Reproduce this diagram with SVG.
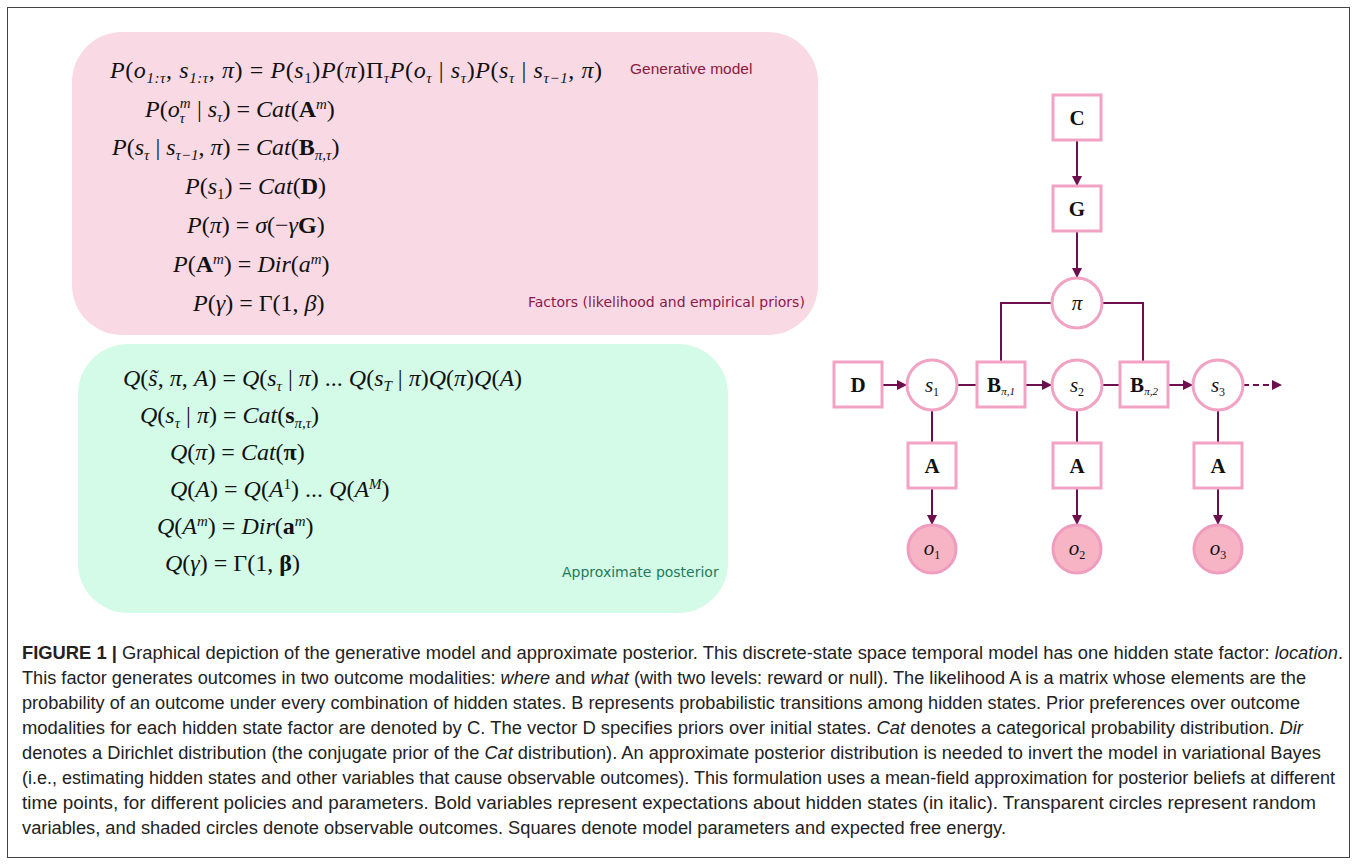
<svg xmlns="http://www.w3.org/2000/svg" width="1357" height="864" viewBox="0 0 1357 864">
<style>
.eq{font-family:"Liberation Serif",serif;font-size:24px;fill:#111}
.i{font-style:italic}
.b{font-weight:bold}
.sub{font-size:15px}
.lbl{font-family:"DejaVu Sans",sans-serif;font-size:14px}
.cap{font-family:"Liberation Sans",sans-serif;font-size:17.5px;fill:#222}
.box{fill:#fff;stroke:#f2a2c3;stroke-width:3}
.circ{fill:#fff;stroke:#f2a2c3;stroke-width:3}
.obs{fill:#f7b4c4;stroke:#f09cbf;stroke-width:3}
.gl{font-family:"Liberation Serif",serif;font-size:21px;fill:#111;text-anchor:middle}
.con{fill:none;stroke:#6d0f4e;stroke-width:2}
</style>
<defs>
<marker id="ah" viewBox="0 0 10 10" refX="10" refY="5" markerWidth="5" markerHeight="5" orient="auto" markerUnits="strokeWidth">
<path d="M0,0 L10,5 L0,10 z" fill="#6d0f4e"/>
</marker>
</defs>
<rect x="7.5" y="7.5" width="1342" height="850" fill="none" stroke="#444" stroke-width="1"/>

<g id="generative-model">
<rect x="72" y="32" width="746" height="303" rx="50" fill="#f9d9e4"/>
<text class="eq" x="110" y="78" textLength="492" lengthAdjust="spacing"><tspan class="i">P</tspan>(<tspan class="i">o</tspan><tspan class="sub i" dy="5">1:τ</tspan><tspan dy="-5">, </tspan><tspan class="i">s</tspan><tspan class="sub i" dy="5">1:τ</tspan><tspan dy="-5">, </tspan><tspan class="i">π</tspan>) = <tspan class="i">P</tspan>(<tspan class="i">s</tspan><tspan class="sub" dy="5">1</tspan><tspan dy="-5">)</tspan><tspan class="i">P</tspan>(<tspan class="i">π</tspan>)Π<tspan class="sub i" dy="5">τ</tspan><tspan class="i" dy="-5">P</tspan>(<tspan class="i">o</tspan><tspan class="sub i" dy="5">τ</tspan><tspan dy="-5"> | </tspan><tspan class="i">s</tspan><tspan class="sub i" dy="5">τ</tspan><tspan dy="-5">)</tspan><tspan class="i">P</tspan>(<tspan class="i">s</tspan><tspan class="sub i" dy="5">τ</tspan><tspan dy="-5"> | </tspan><tspan class="i">s</tspan><tspan class="sub i" dy="5">τ−1</tspan><tspan dy="-5">, </tspan><tspan class="i">π</tspan>)</text>
<text class="eq" x="145" y="117"><tspan class="i">P</tspan>(<tspan class="i">o</tspan><tspan class="sub i" dy="-9">m</tspan><tspan class="sub i" dx="-11" dy="15">τ</tspan><tspan dx="6" dy="-6"> | </tspan><tspan class="i">s</tspan><tspan class="sub i" dy="5">τ</tspan><tspan dy="-5">) = </tspan><tspan class="i">Cat</tspan>(<tspan class="b">A</tspan><tspan class="sub i" dy="-8">m</tspan><tspan dy="8">)</tspan></text>
<text class="eq" x="112" y="155"><tspan class="i">P</tspan>(<tspan class="i">s</tspan><tspan class="sub i" dy="5">τ</tspan><tspan dy="-5"> | </tspan><tspan class="i">s</tspan><tspan class="sub i" dy="5">τ−1</tspan><tspan dy="-5">, </tspan><tspan class="i">π</tspan>) = <tspan class="i">Cat</tspan>(<tspan class="b">B</tspan><tspan class="sub i" dy="5">π,τ</tspan><tspan dy="-5">)</tspan></text>
<text class="eq" x="185" y="194"><tspan class="i">P</tspan>(<tspan class="i">s</tspan><tspan class="sub" dy="5">1</tspan><tspan dy="-5">) = </tspan><tspan class="i">Cat</tspan>(<tspan class="b">D</tspan>)</text>
<text class="eq" x="187" y="233"><tspan class="i">P</tspan>(<tspan class="i">π</tspan>) = <tspan class="i">σ</tspan>(−<tspan class="i">γ</tspan><tspan class="b">G</tspan>)</text>
<text class="eq" x="173" y="272"><tspan class="i">P</tspan>(<tspan class="b">A</tspan><tspan class="sub i" dy="-8">m</tspan><tspan dy="8">) = </tspan><tspan class="i">Dir</tspan>(<tspan class="i">a</tspan><tspan class="sub i" dy="-8">m</tspan><tspan dy="8">)</tspan></text>
<text class="eq" x="193" y="311"><tspan class="i">P</tspan>(<tspan class="i">γ</tspan>) = Γ(1, <tspan class="i">β</tspan>)</text>
<text x="630" y="74" font-family="Liberation Sans, sans-serif" font-size="15.5" fill="#8b1a3c">Generative model</text>
<text class="lbl" x="528" y="307" fill="#8b1a4a">Factors (likelihood and empirical priors)</text>
</g>

<g id="approximate-posterior">
<rect x="78" y="344" width="650" height="269" rx="50" fill="#d3fbe7"/>
<text class="eq" x="123" y="386"><tspan class="i">Q</tspan>(<tspan class="i">s̃</tspan>, <tspan class="i">π</tspan>, <tspan class="i">A</tspan>) = <tspan class="i">Q</tspan>(<tspan class="i">s</tspan><tspan class="sub i" dy="5">τ</tspan><tspan dy="-5"> | </tspan><tspan class="i">π</tspan>) ... <tspan class="i">Q</tspan>(<tspan class="i">s</tspan><tspan class="sub i" dy="5">T</tspan><tspan dy="-5"> | </tspan><tspan class="i">π</tspan>)<tspan class="i">Q</tspan>(<tspan class="i">π</tspan>)<tspan class="i">Q</tspan>(<tspan class="i">A</tspan>)</text>
<text class="eq" x="140" y="423"><tspan class="i">Q</tspan>(<tspan class="i">s</tspan><tspan class="sub i" dy="5">τ</tspan><tspan dy="-5"> | </tspan><tspan class="i">π</tspan>) = <tspan class="i">Cat</tspan>(<tspan class="b">s</tspan><tspan class="sub i" dy="5">π,τ</tspan><tspan dy="-5">)</tspan></text>
<text class="eq" x="170" y="460"><tspan class="i">Q</tspan>(<tspan class="i">π</tspan>) = <tspan class="i">Cat</tspan>(<tspan class="b">π</tspan>)</text>
<text class="eq" x="170" y="497"><tspan class="i">Q</tspan>(<tspan class="i">A</tspan>) = <tspan class="i">Q</tspan>(<tspan class="i">A</tspan><tspan class="sub" dy="-8">1</tspan><tspan dy="8">) ... </tspan><tspan class="i">Q</tspan>(<tspan class="i">A</tspan><tspan class="sub i" dy="-8">M</tspan><tspan dy="8">)</tspan></text>
<text class="eq" x="157" y="534"><tspan class="i">Q</tspan>(<tspan class="i">A</tspan><tspan class="sub i" dy="-8">m</tspan><tspan dy="8">) = </tspan><tspan class="i">Dir</tspan>(<tspan class="b">a</tspan><tspan class="sub i" dy="-8">m</tspan><tspan dy="8">)</tspan></text>
<text class="eq" x="165" y="571"><tspan class="i">Q</tspan>(<tspan class="i">γ</tspan>) = Γ(1, <tspan class="b">β</tspan>)</text>
<text class="lbl" x="562" y="577" fill="#1f7a5c">Approximate posterior</text>
</g>

<g id="connectors">
<line class="con" x1="1077" y1="140" x2="1077" y2="186" marker-end="url(#ah)"/>
<line class="con" x1="1077" y1="231" x2="1077" y2="278" marker-end="url(#ah)"/>
<path class="con" d="M1052,303 H1001 V362"/>
<path class="con" d="M1102,303 H1143 V362"/>
<line class="con" x1="882" y1="385" x2="907" y2="385" marker-end="url(#ah)"/>
<line class="con" x1="957" y1="385" x2="977" y2="385"/>
<line class="con" x1="1025" y1="385" x2="1052" y2="385" marker-end="url(#ah)"/>
<line class="con" x1="1102" y1="385" x2="1120" y2="385"/>
<line class="con" x1="1168" y1="385" x2="1193" y2="385" marker-end="url(#ah)"/>
<line class="con" x1="1243" y1="385" x2="1282" y2="385" stroke-dasharray="6,4" marker-end="url(#ah)"/>
<line class="con" x1="932" y1="410" x2="932" y2="443"/>
<line class="con" x1="1077" y1="410" x2="1077" y2="443"/>
<line class="con" x1="1218" y1="410" x2="1218" y2="443"/>
<line class="con" x1="932" y1="488" x2="932" y2="525" marker-end="url(#ah)"/>
<line class="con" x1="1077" y1="488" x2="1077" y2="525" marker-end="url(#ah)"/>
<line class="con" x1="1218" y1="488" x2="1218" y2="525" marker-end="url(#ah)"/>
</g>

<g id="node-C"><rect class="box" x="1053" y="95" width="48" height="45"/><text class="gl b" x="1077" y="125">C</text></g>
<g id="node-G"><rect class="box" x="1053" y="186" width="48" height="45"/><text class="gl b" x="1077" y="216">G</text></g>
<g id="node-pi"><circle class="circ" cx="1077" cy="303" r="25"/><text class="gl i" x="1077" y="310">π</text></g>
<g id="node-D"><rect class="box" x="834" y="362" width="48" height="45"/><text class="gl b" x="858" y="392">D</text></g>
<g id="node-s1"><circle class="circ" cx="932" cy="385" r="25"/><text class="gl" x="932" y="392"><tspan class="i">s</tspan><tspan font-size="12" dy="4">1</tspan></text></g>
<g id="node-B1"><rect class="box" x="977" y="362" width="48" height="45"/><text class="gl" x="1001" y="392"><tspan class="b">B</tspan><tspan class="i" font-size="11" dy="3">π,1</tspan></text></g>
<g id="node-s2"><circle class="circ" cx="1077" cy="385" r="25"/><text class="gl" x="1077" y="392"><tspan class="i">s</tspan><tspan font-size="12" dy="4">2</tspan></text></g>
<g id="node-B2"><rect class="box" x="1120" y="362" width="48" height="45"/><text class="gl" x="1144" y="392"><tspan class="b">B</tspan><tspan class="i" font-size="11" dy="3">π,2</tspan></text></g>
<g id="node-s3"><circle class="circ" cx="1218" cy="385" r="25"/><text class="gl" x="1218" y="392"><tspan class="i">s</tspan><tspan font-size="12" dy="4">3</tspan></text></g>
<g id="node-A1"><rect class="box" x="908" y="443" width="48" height="45"/><text class="gl b" x="932" y="473">A</text></g>
<g id="node-A2"><rect class="box" x="1053" y="443" width="48" height="45"/><text class="gl b" x="1077" y="473">A</text></g>
<g id="node-A3"><rect class="box" x="1194" y="443" width="48" height="45"/><text class="gl b" x="1218" y="473">A</text></g>
<g id="node-o1"><circle class="obs" cx="932" cy="549" r="24"/><text class="gl" x="932" y="555"><tspan class="i">o</tspan><tspan font-size="12" dy="4">1</tspan></text></g>
<g id="node-o2"><circle class="obs" cx="1077" cy="549" r="24"/><text class="gl" x="1077" y="555"><tspan class="i">o</tspan><tspan font-size="12" dy="4">2</tspan></text></g>
<g id="node-o3"><circle class="obs" cx="1218" cy="549" r="24"/><text class="gl" x="1218" y="555"><tspan class="i">o</tspan><tspan font-size="12" dy="4">3</tspan></text></g>

<g id="caption">
<text class="cap" x="22" y="659" textLength="1321" lengthAdjust="spacingAndGlyphs"><tspan font-weight="bold">FIGURE 1 |</tspan> Graphical depiction of the generative model and approximate posterior. This discrete-state space temporal model has one hidden state factor: <tspan font-style="italic">location</tspan>.</text>
<text class="cap" x="22" y="684" textLength="1284" lengthAdjust="spacingAndGlyphs">This factor generates outcomes in two outcome modalities: <tspan font-style="italic">where</tspan> and <tspan font-style="italic">what</tspan> (with two levels: reward or null). The likelihood A is a matrix whose elements are the</text>
<text class="cap" x="22" y="709" textLength="1278" lengthAdjust="spacingAndGlyphs">probability of an outcome under every combination of hidden states. B represents probabilistic transitions among hidden states. Prior preferences over outcome</text>
<text class="cap" x="22" y="734" textLength="1281" lengthAdjust="spacingAndGlyphs">modalities for each hidden state factor are denoted by C. The vector D specifies priors over initial states. <tspan font-style="italic">Cat</tspan> denotes a categorical probability distribution. <tspan font-style="italic">Dir</tspan></text>
<text class="cap" x="22" y="759" textLength="1299" lengthAdjust="spacingAndGlyphs">denotes a Dirichlet distribution (the conjugate prior of the <tspan font-style="italic">Cat</tspan> distribution). An approximate posterior distribution is needed to invert the model in variational Bayes</text>
<text class="cap" x="22" y="784" textLength="1313" lengthAdjust="spacingAndGlyphs">(i.e., estimating hidden states and other variables that cause observable outcomes). This formulation uses a mean-field approximation for posterior beliefs at different</text>
<text class="cap" x="22" y="809" textLength="1294" lengthAdjust="spacingAndGlyphs">time points, for different policies and parameters. Bold variables represent expectations about hidden states (in italic). Transparent circles represent random</text>
<text class="cap" x="22" y="834" textLength="984" lengthAdjust="spacingAndGlyphs">variables, and shaded circles denote observable outcomes. Squares denote model parameters and expected free energy.</text>
</g>
</svg>
